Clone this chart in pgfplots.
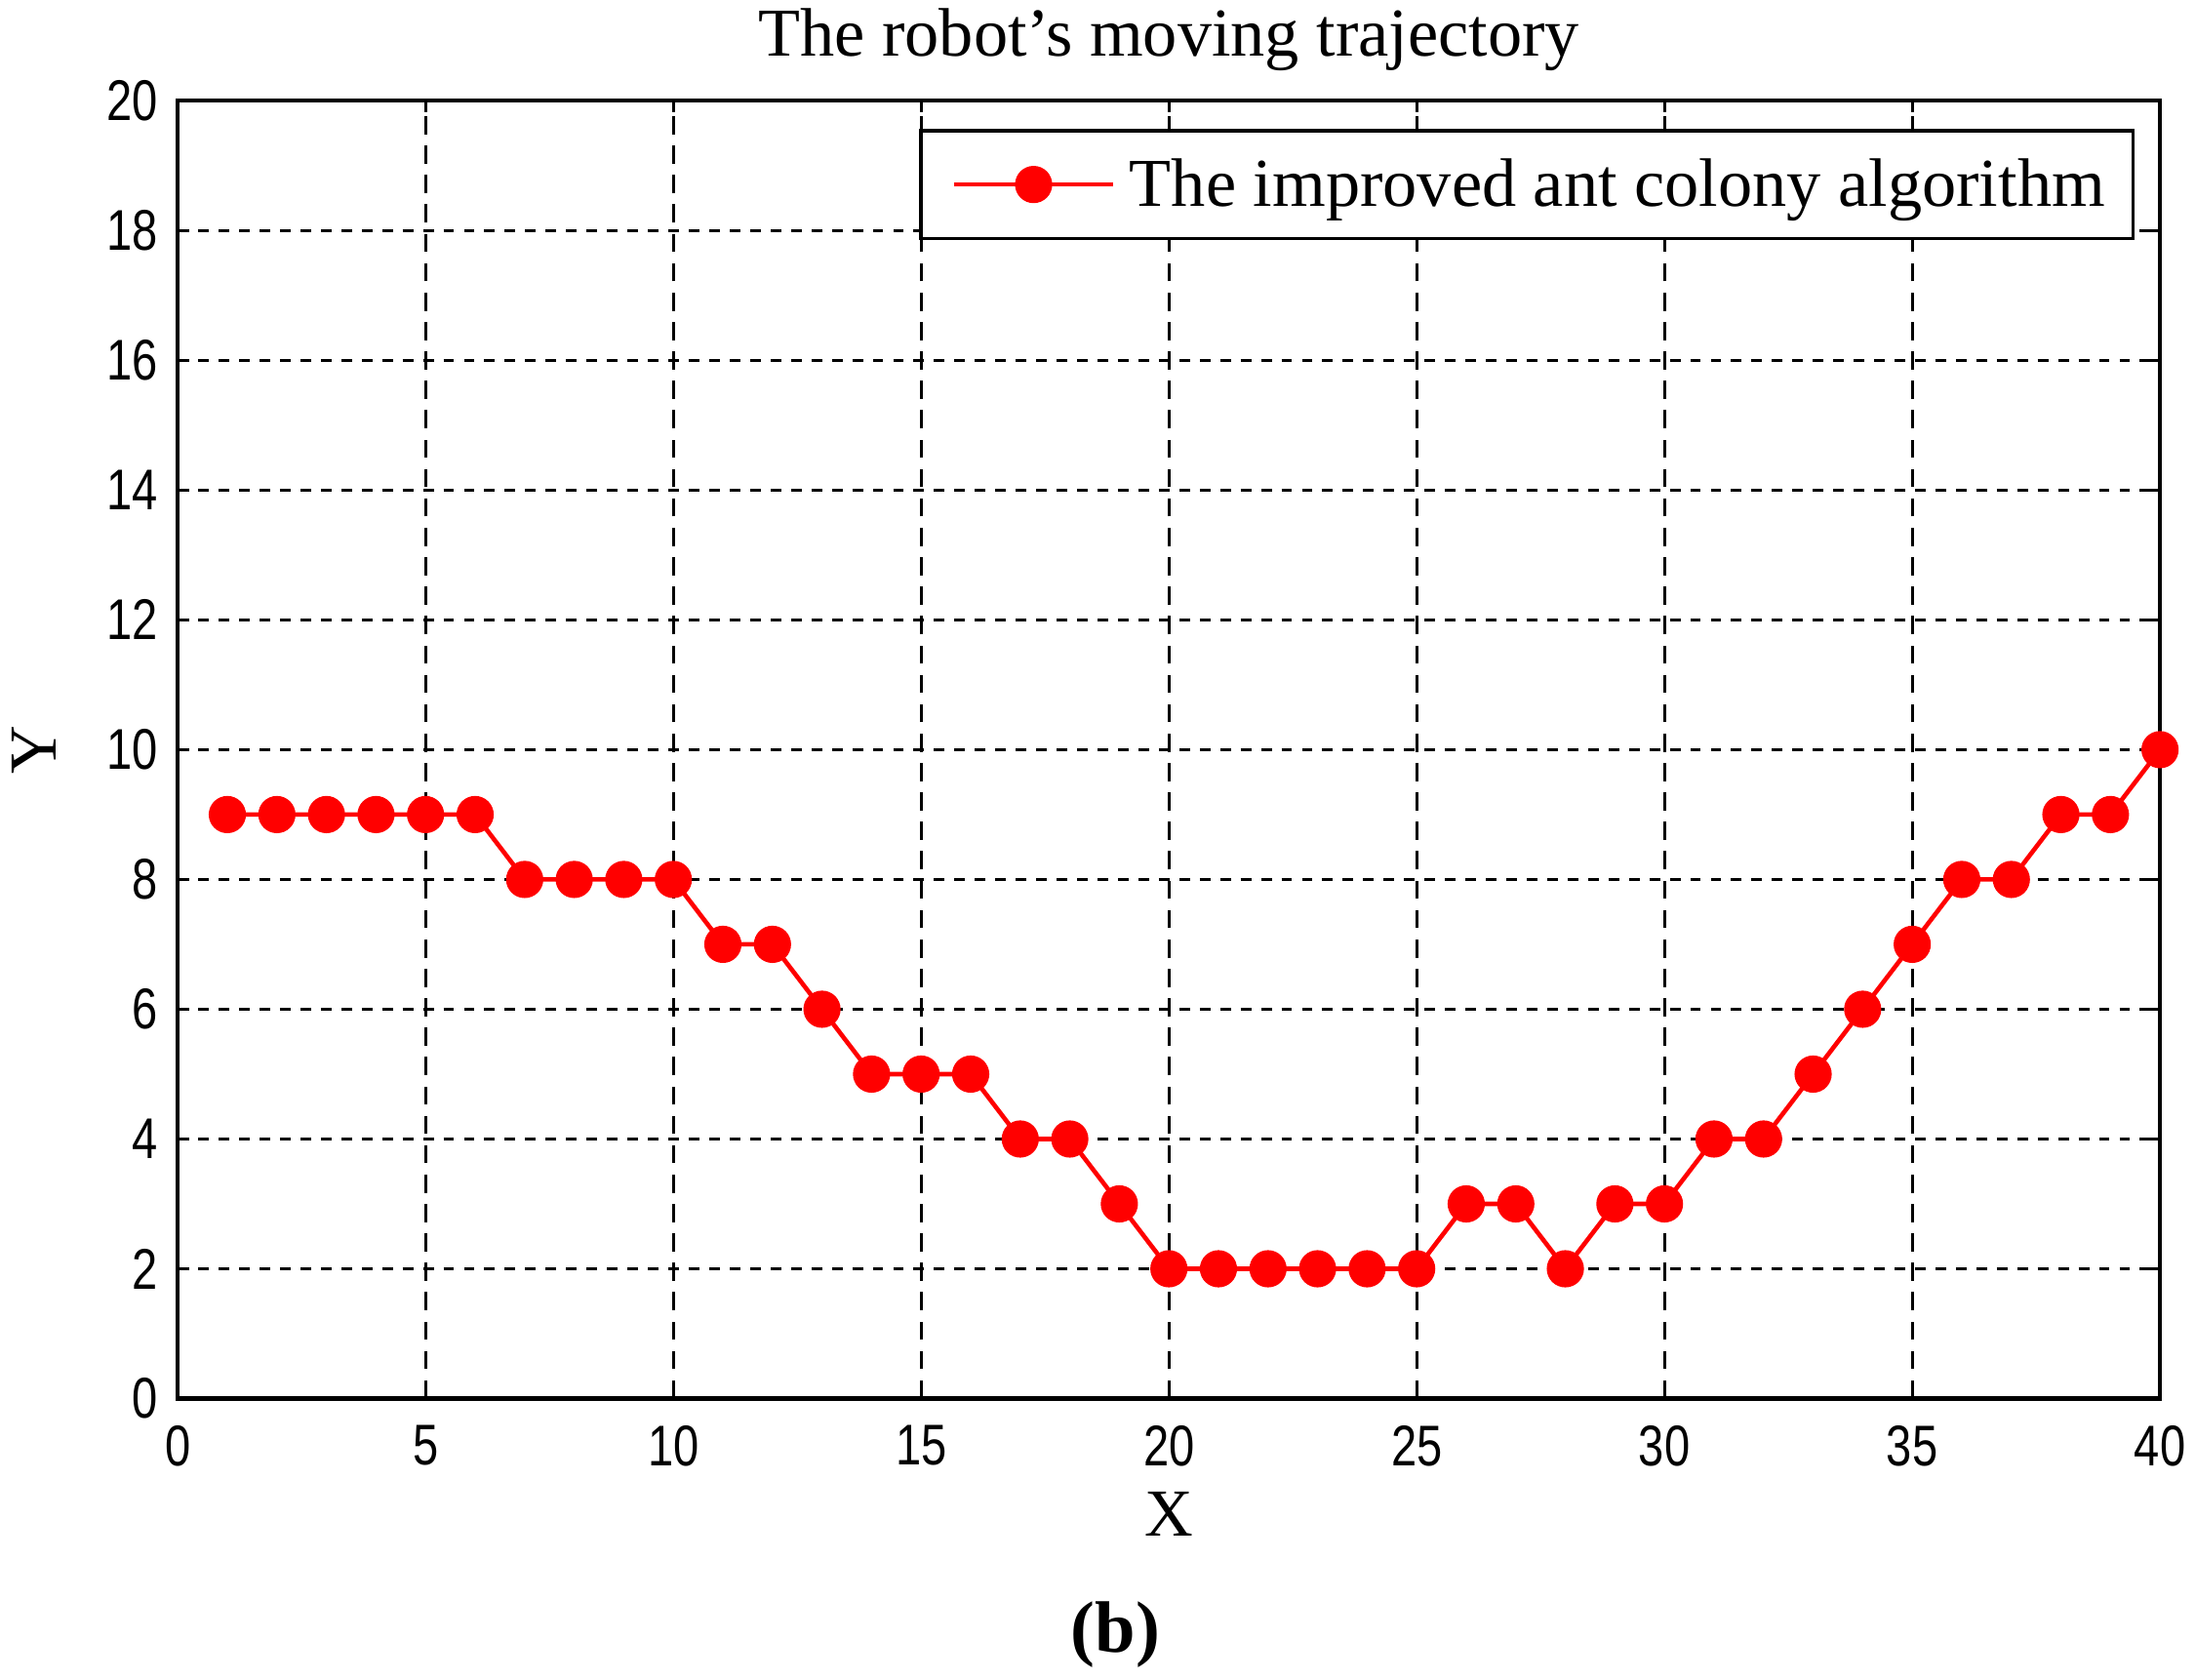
\documentclass[border=0pt]{standalone}
\usepackage{fontspec}
\setmainfont{Liberation Serif}
\setsansfont{Liberation Sans}
\newfontfamily\tickfont[FakeStretch=0.8]{Liberation Sans}
\usepackage{pgfplots}
\pgfplotsset{compat=1.18}
\begin{document}
\begin{tikzpicture}
\begin{axis}[
  scale only axis, width=708pt, height=463.5pt,
  xmin=0, xmax=40, ymin=0, ymax=20,
  xtick={0,5,...,40}, ytick={0,2,...,20},
  axis line style={line width=1.5pt},
  tick align=inside, major tick length=4pt,
  tick style={black, line width=1pt},
  grid=major,
  x grid style={black, line width=1.1pt, dash pattern=on 6.5pt off 4pt},
  y grid style={black, line width=1.1pt, dash pattern=on 3.8pt off 3.5pt},
  /pgf/number format/assume math mode=true,
  ticklabel style={font=\fontsize{20.5}{22}\selectfont\tickfont, inner sep=0pt},
  xticklabel style={yshift=-9.5pt},
  yticklabel style={xshift=-7pt},
  every axis title shift=0pt,
  title={The robot's moving trajectory},
  title style={font=\fontsize{24.5}{26}\selectfont, inner sep=0pt, at={(rel axis cs:0.5,1)}, anchor=base, yshift=16pt},
  xlabel={X},
  xlabel style={font=\fontsize{24}{26}\selectfont, inner sep=0pt, at={(rel axis cs:0.5,0)}, anchor=base, yshift=-49pt},
  ylabel={Y},
  ylabel style={font=\fontsize{24}{26}\selectfont, inner sep=0pt, at={(axis description cs:-0.0614,0.5)}, anchor=base},
  clip=false,
  legend style={at={(rel axis cs:1,1)}, anchor=north east, xshift=-9pt, yshift=-10pt,
    draw=black, line width=1.3pt, fill=white, font=\fontsize{24.5}{26}\selectfont,
    inner xsep=8pt, inner ysep=8pt},
  legend cell align=left,
  legend image code/.code={\path (0pt,0pt) (63pt,0pt);\draw[mark repeat=2,mark phase=2,#1] plot coordinates {(3pt,0pt)(31.5pt,0pt)(60pt,0pt)};},
]
\addplot[red, line width=1.6pt, mark=*, mark size=6.4pt, mark options={fill=red, draw=red, line width=0.5pt}]
coordinates {
(1,9)(2,9)(3,9)(4,9)(5,9)(6,9)(7,8)(8,8)(9,8)(10,8)
(11,7)(12,7)(13,6)(14,5)(15,5)(16,5)(17,4)(18,4)(19,3)(20,2)
(21,2)(22,2)(23,2)(24,2)(25,2)(26,3)(27,3)(28,2)(29,3)(30,3)
(31,4)(32,4)(33,5)(34,6)(35,7)(36,8)(37,8)(38,9)(39,9)(40,10)
};
\addlegendentry{The improved ant colony algorithm}
\node[anchor=base, yshift=-90.5pt, inner sep=0pt, font=\bfseries\fontsize{26}{28}\selectfont] at (rel axis cs:0.473,0) {(b)};
\end{axis}
\path ([shift={(-63.5pt,36pt)}]current axis.north west) rectangle ([shift={(12.5pt,-100.5pt)}]current axis.south east);
\end{tikzpicture}
\end{document}
